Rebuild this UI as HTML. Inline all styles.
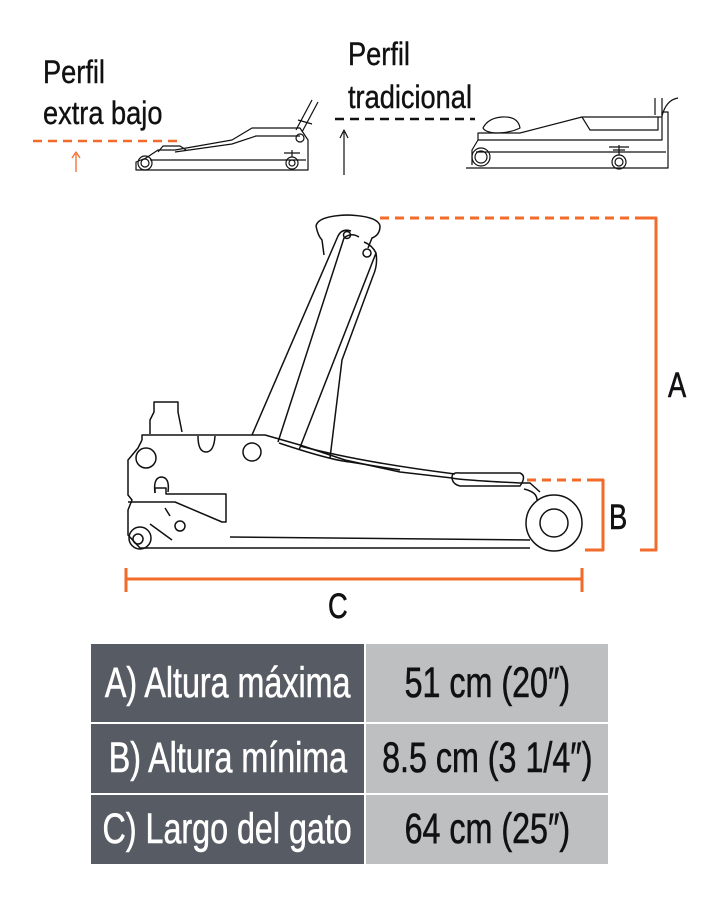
<!DOCTYPE html>
<html><head><meta charset="utf-8"><style>
html,body{margin:0;padding:0;background:#fff;}
body{width:720px;height:906px;position:relative;overflow:hidden;font-family:"Liberation Sans",sans-serif;}
svg{position:absolute;left:0;top:0;}
.t{position:absolute;font-size:32px;color:#111;line-height:1;white-space:nowrap;transform:scaleX(0.85);transform-origin:0 0;-webkit-text-stroke:0.4px #111;}
.cell{position:absolute;display:flex;align-items:center;justify-content:center;overflow:hidden;}
.cell span{display:inline-block;white-space:nowrap;font-size:43px;transform:scaleX(0.75);-webkit-text-stroke:0.6px currentColor;}
.a{background:#575c64;color:#fff;left:91px;width:273px;}
.b{background:#bdbfc1;color:#111;left:366px;width:242px;}
</style></head><body>
<div class="t" style="left:43px;top:56px;">Perfil</div>
<div class="t" style="left:43px;top:97px;">extra bajo</div>
<div class="t" style="left:348px;top:38px;">Perfil</div>
<div class="t" style="left:348px;top:81px;">tradicional</div>
<svg width="720" height="906" viewBox="0 0 720 906" fill="none" stroke="#111" stroke-width="1.6" stroke-linejoin="round">
<line x1="33" y1="141" x2="178" y2="141" stroke="#f26b2a" stroke-width="2.5" stroke-dasharray="9,6"/>
<path d="M76 172V154M72 158L76 152L80 158" stroke="#f26b2a" stroke-width="1.3"/>
<g stroke-width="1.2">
<path d="M136 170H308V140L300 128H252L232 140L175 150H158L146 158L136 162Z"/>
<path d="M175 152L232 144L256 136H300M150 160H306"/>
<circle cx="145" cy="163" r="7"/><circle cx="145" cy="163" r="4"/>
<circle cx="292" cy="163" r="6"/><circle cx="292" cy="163" r="3"/><circle cx="300" cy="138" r="4"/>
<path d="M158 152L163 146H180L186 150"/>
<path d="M296 130L312 100M302 132L318 102M298 120L312 124"/>
<path d="M284 153H300M292 150V157"/>
</g>
<line x1="335" y1="119" x2="475" y2="119" stroke="#111" stroke-width="2.5" stroke-dasharray="9,6"/>
<path d="M344 175V132M340 138L344 130L348 138" stroke-width="1.2"/>
<g stroke-width="1.2">
<path d="M466 168H668V112H662V140H478L472 150V165"/>
<path d="M520 133L582 117H662M478 140V133H520"/>
<path d="M476 152H666M582 117L590 130H658V117"/>
<path d="M483 128Q488 118 502 117Q518 116 520 128Q510 133 495 133Q485 132 483 128Z"/>
<circle cx="481" cy="157" r="9"/><circle cx="481" cy="157" r="6"/>
<circle cx="619" cy="162" r="7"/><circle cx="619" cy="162" r="4"/>
<path d="M609 147H629M619 145V155M613 150H625"/>
<path d="M655 98V115M662 98V115M662 116Q666 100 678 98"/>
</g>
<g stroke-width="1.5">
<path d="M316 226Q318 216 347 215Q378 216 380 226Q380 235 372 238L368 248M316 226Q318 236 322 240L324 255"/>
<path d="M351 231Q342 228 338 236L252 435M359 237Q351 232 344 238L278 442"/>
<path d="M364 242Q372 245 376 253L299 450M376 253Q378 265 373 276L342 360L330 458"/>
<circle cx="347" cy="235" r="3.5"/><circle cx="367" cy="253" r="4"/>
<path d="M150 434V420L154 412V402H178V412L182 432"/>
<path d="M142 440V435H265L300 445L345 460L400 472L452 478Q460 480 520 483H530L540 492"/>
<path d="M279 443Q330 460 350 462L400 470"/>
<path d="M300 446Q360 462 455 474"/>
<path d="M452 477Q452 472 460 473H520Q527 476 520 486H460Q452 484 452 477Z"/>
<path d="M142 440L138 448L128 460V495L132 500L128 510V535L140 548L160 548L530 548"/>
<path d="M230 537L530 540"/>
<path d="M128 502H175L222 522H226V494H166V488H155V493"/>
<path d="M155 493Q153 478 161 477Q170 477 168 492"/>
<path d="M198 436Q198 452 206 452Q214 452 215 436"/>
<circle cx="146" cy="458" r="10"/><circle cx="252" cy="452" r="9"/>
<circle cx="180" cy="526" r="5"/>
<circle cx="140" cy="538" r="11"/><circle cx="138" cy="539" r="5"/>
<path d="M150 524L172 540M165 508L170 516"/>
<circle cx="554" cy="523" r="28"/><circle cx="554" cy="523" r="14"/>
<path d="M524 489Q537 492 537 500"/>
</g>
<g stroke="#f26b2a" stroke-width="3">
<line x1="380" y1="218" x2="650" y2="218" stroke-dasharray="9,6"/>
<path d="M642 218H656V550H640"/>
<line x1="527" y1="480" x2="596" y2="480" stroke-dasharray="9,6"/>
<path d="M596 480H603V550H585"/>
<path d="M126 568V592M126 579H582M582 568V592"/>
</g>
<g fill="#111" stroke="#111" stroke-width="0.6" font-family="Liberation Sans, sans-serif" font-size="35">
<text x="668" y="397" transform="translate(668 0) scale(0.78 1) translate(-668 0)">A</text>
<text x="609" y="529" transform="translate(609 0) scale(0.78 1) translate(-609 0)">B</text>
<text x="328" y="618" transform="translate(328 0) scale(0.78 1) translate(-328 0)">C</text>
</g>
</svg>
<div class="cell a" style="top:644px;height:78px;"><span>A) Altura máxima</span></div>
<div class="cell b" style="top:644px;height:78px;"><span>51 cm (20″)</span></div>
<div class="cell a" style="top:724px;height:69px;"><span>B) Altura mínima</span></div>
<div class="cell b" style="top:724px;height:69px;"><span>8.5 cm (3 1/4″)</span></div>
<div class="cell a" style="top:795px;height:69px;"><span>C) Largo del gato</span></div>
<div class="cell b" style="top:795px;height:69px;"><span>64 cm (25″)</span></div>
</body></html>
